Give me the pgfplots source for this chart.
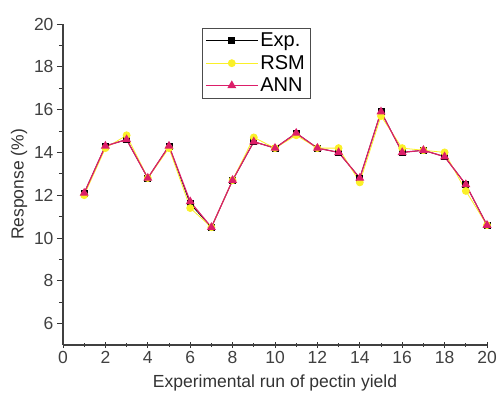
\documentclass[border=0pt]{standalone}
\usepackage{fontspec}
\setmainfont{Liberation Sans}
\usepackage{pgfplots}
\pgfplotsset{compat=1.18}

\definecolor{annpink}{RGB}{220,30,105}
\definecolor{rsmyel}{RGB}{250,240,40}

\begin{document}
\begin{tikzpicture}
\begin{axis}[
    scale only axis,
    width=424pt,
    height=321pt,
    xmin=0, xmax=20,
    ymin=5, ymax=20,
    xtick={0,2,...,20},
    ytick={6,8,...,20},
    minor x tick num=1,
    minor y tick num=1,
    axis lines*=left,
    xtick align=center,
    ytick align=outside,
    major tick length=6pt,
    minor tick length=4pt,
    tick style={black!80, thick},
    axis line style={black!75, line width=1.2pt},
    ticklabel style={font=\fontsize{17.5}{19}\selectfont, text=black!75},
    /pgf/number format/assume math mode=true,
    xlabel={Experimental run of pectin yield},
    ylabel={Response (\%)},
    xlabel style={yshift=-4pt},
    label style={font=\fontsize{17.5}{19}\selectfont, text=black!80},
    legend style={at={(139pt,317pt)}, anchor=north west,
        font=\fontsize{20}{22}\selectfont,
        draw=black!70, row sep=3pt, inner sep=3pt},
    legend cell align=left,
    legend image code/.code={
        \draw[mark repeat=2, mark phase=2] plot coordinates {(0pt,0pt) (26pt,0pt) (52pt,0pt)};
    },
]
\addplot[black, thick, mark=square*, mark size=3pt] coordinates {
(1,12.1) (2,14.3) (3,14.6) (4,12.8) (5,14.3) (6,11.6) (7,10.5) (8,12.7) (9,14.5) (10,14.2)
(11,14.9) (12,14.2) (13,14.0) (14,12.8) (15,15.9) (16,14.0) (17,14.1) (18,13.8) (19,12.5) (20,10.6)};
\addlegendentry{Exp.}
\addplot[rsmyel, thick, mark=*, mark size=3.5pt] coordinates {
(1,12.0) (2,14.2) (3,14.8) (4,12.8) (5,14.2) (6,11.4) (7,10.5) (8,12.7) (9,14.7) (10,14.2)
(11,14.8) (12,14.2) (13,14.2) (14,12.6) (15,15.7) (16,14.2) (17,14.1) (18,14.0) (19,12.2) (20,10.6)};
\addlegendentry{RSM}
\addplot[annpink, line width=1.2pt, mark=triangle*, mark size=4pt] coordinates {
(1,12.1) (2,14.3) (3,14.6) (4,12.8) (5,14.3) (6,11.7) (7,10.5) (8,12.7) (9,14.5) (10,14.2)
(11,14.9) (12,14.2) (13,14.0) (14,12.8) (15,15.9) (16,14.0) (17,14.1) (18,13.8) (19,12.5) (20,10.6)};
\addlegendentry{ANN}
\end{axis}
\pgfresetboundingbox
\path ([xshift=-63pt,yshift=-54pt]current axis.south west) rectangle ([xshift=12pt,yshift=24pt]current axis.north east);
\end{tikzpicture}
\end{document}
